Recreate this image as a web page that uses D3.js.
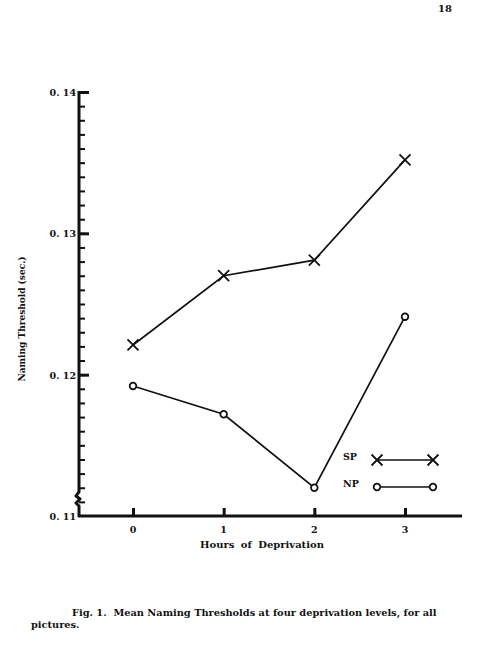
<!DOCTYPE html>
<html>
<head>
<meta charset="utf-8">
<script src="https://cdn.jsdelivr.net/npm/d3@7"></script>
<style>
  body { margin: 0; background: #fff; }
  svg { display: block; }
  text { font-family: "DejaVu Serif", "Liberation Serif", serif; fill: #111; font-weight: bold; }
</style>
</head>
<body>
<div id="chart"></div>
<script>
// data
var hours = [0, 1, 2, 3];
var spValues = [0.1221, 0.1270, 0.1281, 0.1352];
var npValues = [0.1192, 0.1172, 0.1120, 0.1241];
var yMajorTicks = [0.11, 0.12, 0.13, 0.14];
var yTickLabels = ["0. 11", "0. 12", "0. 13", "0. 14"];
var xTickLabels = ["0", "1", "2", "3"];
var legendNames = ["SP", "NP"];

var width = 485, height = 664;

var svg = d3.select("#chart")
    .append("svg")
    .attr("width", width)
    .attr("height", height)

var x = d3.scaleLinear().domain([0, 3]).range([133, 405]);
var y = d3.scaleLinear().domain([0.11, 0.14]).range([516, 92]);
var axisX = 79;

// minor ticks every 0.001
var minorTicks = d3.range(0, 31).map(function (i) { return +(0.11 + i * 0.001).toFixed(3) });

// y axis minor ticks (pointing right)
svg.append("g")
    .attr("transform", "translate(" + axisX + ",0)")
    .call(d3.axisRight(y).tickValues(minorTicks.filter(function (d) { return d > 0.1105 })).tickSize(6).tickFormat(""))
    .call(function (g) { g.select(".domain").remove() })
    .call(function (g) { g.selectAll("line").attr("stroke", "#111").attr("stroke-width", 2) });

// major ticks + labels
svg.append("g")
    .attr("transform", "translate(" + axisX + ",0)")
    .call(d3.axisRight(y).tickValues(yMajorTicks.slice(1)).tickSize(10).tickFormat(""))
    .call(function (g) { g.select(".domain").remove() })
    .call(function (g) { g.selectAll("line").attr("stroke", "#111").attr("stroke-width", 3) });

svg.append("g")
    .selectAll("text")
    .data(yMajorTicks)
    .enter()
    .append("text")
    .attr("x", axisX - 3)
    .attr("y", function (d) { return y(d) + 4 })
    .attr("text-anchor", "end")
    .style("font-size", "9.5px")
    .text(function (d, i) { return yTickLabels[i] });

// y axis line with a break near the bottom
var yb = y(0.1117);
svg.append("path")
    .attr("d", "M" + axisX + "," + (y(0.14) - 1) + "V" + yb +
        "l-3,4 l4,3 l-4,4 l3,3 V" + (y(0.11) + 1))
    .attr("fill", "none")
    .attr("stroke", "#111")
    .attr("stroke-width", 3)
    .attr("stroke-linejoin", "round");

// x axis
svg.append("line")
    .attr("x1", axisX - 1).attr("x2", 462)
    .attr("y1", y(0.11)).attr("y2", y(0.11))
    .attr("stroke", "#111").attr("stroke-width", 3);

svg.append("g")
    .attr("transform", "translate(0," + y(0.11) + ")")
    .call(d3.axisTop(x).tickValues(hours).tickSize(8).tickFormat(""))
    .call(function (g) { g.select(".domain").remove() })
    .call(function (g) { g.selectAll("line").attr("stroke", "#111").attr("stroke-width", 3) });

svg.append("g")
    .selectAll("text")
    .data(hours)
    .enter()
    .append("text")
    .attr("x", function (d) { return x(d) })
    .attr("y", 533)
    .attr("text-anchor", "middle")
    .style("font-size", "9.5px")
    .text(function (d, i) { return xTickLabels[i] });

svg.append("text")
    .attr("x", 262)
    .attr("y", 548)
    .attr("text-anchor", "middle")
    .style("font-size", "10px")
    .style("word-spacing", "3px")
    .text("Hours of Deprivation");

svg.append("text")
    .attr("transform", "translate(25,319) rotate(-90)")
    .attr("text-anchor", "middle")
    .style("font-size", "9px")
    .text("Naming Threshold (sec.)");

// series lines
var line = d3.line()
    .x(function (d, i) { return x(hours[i]) })
    .y(function (d) { return y(d) });

svg.append("path")
    .datum(spValues)
    .attr("d", line)
    .attr("fill", "none")
    .attr("stroke", "#111")
    .attr("stroke-width", 1.7);

svg.append("path")
    .datum(npValues)
    .attr("d", line)
    .attr("fill", "none")
    .attr("stroke", "#111")
    .attr("stroke-width", 1.7);

// cross markers
function cross(sel, s) {
    sel.append("path")
        .attr("d", "M" + (-s) + "," + (-s) + "L" + s + "," + s + "M" + (-s) + "," + s + "L" + s + "," + (-s))
        .attr("stroke", "#111")
        .attr("stroke-width", 1.8)
        .attr("fill", "none");
}
function ring(sel) {
    sel.append("circle")
        .attr("r", 3.3)
        .attr("fill", "#fff")
        .attr("stroke", "#111")
        .attr("stroke-width", 1.8);
}

svg.append("g").selectAll("g")
    .data(spValues)
    .enter()
    .append("g")
    .attr("transform", function (d, i) { return "translate(" + x(hours[i]) + "," + y(d) + ")" })
    .call(cross, 5.5);

svg.append("g").selectAll("g")
    .data(npValues)
    .enter()
    .append("g")
    .attr("transform", function (d, i) { return "translate(" + x(hours[i]) + "," + y(d) + ")" })
    .call(ring);

// legend
var legend = svg.append("g");
var legRows = [460, 487];
legendNames.forEach(function (name, i) {
    var ly = legRows[i];
    legend.append("text")
        .attr("x", 343).attr("y", ly)
        .style("font-size", "9.5px")
        .text(name);
    legend.append("line")
        .attr("x1", 377).attr("x2", 433)
        .attr("y1", ly).attr("y2", ly)
        .attr("stroke", "#111").attr("stroke-width", 1.7);
    [377, 433].forEach(function (lx) {
        var g = legend.append("g").attr("transform", "translate(" + lx + "," + ly + ")");
        if (i == 0) cross(g, 5.5); else ring(g);
    });
});

// page number and caption
svg.append("text")
    .attr("x", 438).attr("y", 12)
    .style("font-size", "10px")
    .text("18");

svg.append("text")
    .attr("x", 72).attr("y", 616)
    .style("font-size", "9.8px")
    .attr("xml:space", "preserve")
    .text("Fig. 1.  Mean Naming Thresholds at four deprivation levels, for all");

svg.append("text")
    .attr("x", 31).attr("y", 628)
    .style("font-size", "9.8px")
    .text("pictures.");
</script>
</body>
</html>
